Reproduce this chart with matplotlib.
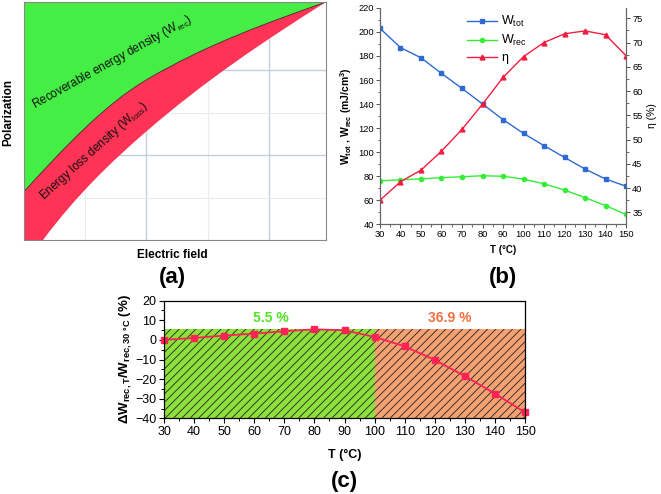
import numpy as np
import matplotlib
matplotlib.use("Agg")
import matplotlib.pyplot as plt
from matplotlib.ticker import MultipleLocator
from matplotlib.path import Path
from matplotlib.patches import PathPatch

plt.rcParams['font.family'] = ['Liberation Sans', 'DejaVu Sans']
plt.rcParams['mathtext.fontset'] = 'custom'
plt.rcParams['mathtext.rm'] = 'Liberation Sans'
plt.rcParams['mathtext.it'] = 'Liberation Sans:italic'
plt.rcParams['mathtext.bf'] = 'Liberation Sans:bold'
plt.rcParams['hatch.linewidth'] = 0.6

# ---------------- data ----------------
# panel (a): schematic P-E curves (axes fractions): anchor points and tangent slopes
upper_E = [0.0, 0.404, 1.0]
upper_P = [0.203, 0.672, 1.0]
upper_slope = [1.4, 0.75, 0.45]
lower_E = [0.063, 0.404, 1.0]
lower_P = [0.0, 0.455, 1.0]
lower_slope = [1.7, 1.1, 0.8]
grid_major_x = [0.404, 0.81]
grid_minor_x = [0.203, 0.608]
grid_major_y = [0.357, 0.714]
grid_minor_y = [0.175, 0.532]

# panel (b)
T = [30, 40, 50, 60, 70, 80, 90, 100, 110, 120, 130, 140, 150]
W_tot = [203, 187, 178.5, 165.5, 153, 140, 127, 115.5, 105.3, 95.5, 85.8, 77.5, 71.5]
W_rec = [76, 76.8, 77.6, 78.6, 79.4, 80.2, 79.8, 77.4, 73.5, 68.3, 62, 55.3, 48]
eta = [37.5, 41.3, 43.7, 47.6, 52.1, 57.3, 62.8, 67.1, 70.0, 71.8, 72.4, 71.6, 67.3]

# panel (c)
dW = [0.0, 1.0, 2.2, 3.2, 4.4, 5.4, 4.9, 1.5, -3.3, -10.2, -18.5, -27.4, -37.0]
region_bounds = [30, 100, 150]
region_top = 5.5
region_labels = ['5.5 %', '36.9 %']

W, H = 661, 494
fig = plt.figure(figsize=(W / 100, H / 100), dpi=100)

def ax_px(x0, y0, x1, y1):
    return fig.add_axes([x0 / W, 1 - y1 / H, (x1 - x0) / W, (y1 - y0) / H])

def ftext(x, y, s, **kw):
    fig.text(x / W, 1 - y / H, s, ha='center', va='center', **kw)

def hermite_bezier(xs, ys, slopes):
    """Vertices/codes of cubic Bezier segments through anchors with given tangents."""
    verts = [(xs[0], ys[0])]
    codes = [Path.MOVETO]
    for i in range(len(xs) - 1):
        h = (xs[i + 1] - xs[i]) / 3.0
        verts += [(xs[i] + h, ys[i] + slopes[i] * h),
                  (xs[i + 1] - h, ys[i + 1] - slopes[i + 1] * h),
                  (xs[i + 1], ys[i + 1])]
        codes += [Path.CURVE4] * 3
    return verts, codes

# ---------------- (a) ----------------
axa = ax_px(24, 2, 326, 240)
axa.set_xlim(0, 1)
axa.set_ylim(0, 1)
for g in grid_major_x:
    axa.axvline(g, color='#c5cfdc', lw=1.0, zorder=0)
for g in grid_minor_x:
    axa.axvline(g, color='#e6ebf1', lw=0.8, zorder=0)
for g in grid_major_y:
    axa.axhline(g, color='#c5cfdc', lw=1.0, zorder=0)
for g in grid_minor_y:
    axa.axhline(g, color='#e6ebf1', lw=0.8, zorder=0)

uv, uc = hermite_bezier(upper_E, upper_P, upper_slope)
lv, lc = hermite_bezier(lower_E[::-1], lower_P[::-1], lower_slope[::-1])
# green: upper curve then top-left corner
gverts = uv + [(0.0, 1.0), (0.0, upper_P[0])]
gcodes = uc + [Path.LINETO, Path.CLOSEPOLY]
axa.add_patch(PathPatch(Path(gverts, gcodes), facecolor='#44ee44', lw=0, zorder=1))
# red: upper curve forward, lower curve backward, bottom-left corner
rverts = uv + lv[1:] + [(0.0, 0.0), (0.0, upper_P[0])]
rcodes = uc + lc[1:] + [Path.LINETO, Path.CLOSEPOLY]
axa.add_patch(PathPatch(Path(rverts, rcodes), facecolor='#ff3355', lw=0, zorder=1))
axa.add_patch(PathPatch(Path(uv, uc), facecolor='none', edgecolor='#3a2a2a', lw=0.6, zorder=2))
axa.set_xticks([])
axa.set_yticks([])
for s in axa.spines.values():
    s.set_color('#888888')
    s.set_linewidth(0.8)
    s.set_zorder(3)
ftext(112, 62, 'Recoverable energy density (W$_{\\rm rec}$)', fontsize=8.5, rotation=29, color='#111111')
ftext(94, 151, 'Energy loss density (W$_{\\rm loss}$)', fontsize=8.5, rotation=42, color='#111111')
ftext(172, 255, 'Electric field', fontsize=8.5, fontweight='bold')
ftext(8, 113, 'Polarization', fontsize=8.5, fontweight='bold', rotation=90)
ftext(172, 277, '(a)', fontsize=16, fontweight='bold')

# ---------------- (b) ----------------
axb = ax_px(380, 8, 626, 224)
axb.set_xlim(30, 150)
axb.set_ylim(40, 220)
l1, = axb.plot(T, W_tot, color='#2e6ad2', marker='s', ms=3, lw=1.0, label='W$_{\\rm tot}$')
l2, = axb.plot(T, W_rec, color='#33ee33', marker='o', ms=3, lw=1.0, label='W$_{\\rm rec}$')
axb2 = axb.twinx()
axb2.set_ylim(32.59, 77.12)
l3, = axb2.plot(T, eta, color='#f21d40', marker='^', ms=3.5, lw=1.0, label='η')
axb.xaxis.set_major_locator(MultipleLocator(10))
axb.xaxis.set_minor_locator(MultipleLocator(5))
axb.yaxis.set_major_locator(MultipleLocator(20))
axb.yaxis.set_minor_locator(MultipleLocator(10))
axb2.yaxis.set_major_locator(MultipleLocator(5))
axb2.yaxis.set_minor_locator(MultipleLocator(2.5))
for a in (axb, axb2):
    a.tick_params(which='major', direction='out', length=3, width=0.7, labelsize=6.7, pad=1.5, color='#555555')
    a.tick_params(which='minor', direction='out', length=1.8, width=0.6, color='#555555')
    a.spines['top'].set_visible(False)
    for s in ('left', 'right', 'bottom'):
        a.spines[s].set_color('#666666')
        a.spines[s].set_linewidth(0.8)
axb.set_xlabel('T (°C)', fontsize=7, fontweight='bold', labelpad=4)
axb.set_ylabel('W$_\\mathbf{tot}$ , W$_\\mathbf{rec}$ (mJ/cm$^\\mathbf{3}$)', fontsize=7.5, fontweight='bold', labelpad=3)
axb2.set_ylabel('η (%)', fontsize=7.5, labelpad=3)
leg = axb.legend(handles=[l1, l2, l3], loc='upper left', bbox_to_anchor=((461 - 380) / 246, 1.0),
                 frameon=False, fontsize=9, handlelength=2.4, handletextpad=0.3,
                 labelspacing=0.3, borderaxespad=0.1)
ftext(503, 277, '(b)', fontsize=16, fontweight='bold')

# ---------------- (c) ----------------
axc = ax_px(164, 300.7, 525, 418.3)
axc.set_xlim(30, 150)
axc.set_ylim(-40, 20)
axc.fill_between([region_bounds[0], region_bounds[1]], -40, region_top, facecolor='#8ee03a',
                 edgecolor='#222222', hatch='////', lw=0, zorder=1)
axc.fill_between([region_bounds[1], region_bounds[2]], -40, region_top, facecolor='#f5a273',
                 edgecolor='#222222', hatch='////', lw=0, zorder=1)
axc.plot(T, dW, color='#ff2255', marker='s', ms=4.5, lw=1.3, zorder=3, clip_on=False)
axc.text((region_bounds[0] + region_bounds[1]) / 2 + 0.5, region_top + 5.5, region_labels[0], color='#55e625',
         fontsize=10, fontweight='bold', ha='center', va='center')
axc.text((region_bounds[1] + region_bounds[2]) / 2, region_top + 5.5, region_labels[1], color='#f27040',
         fontsize=10, fontweight='bold', ha='center', va='center')
axc.xaxis.set_major_locator(MultipleLocator(10))
axc.xaxis.set_minor_locator(MultipleLocator(5))
axc.yaxis.set_major_locator(MultipleLocator(10))
axc.yaxis.set_minor_locator(MultipleLocator(5))
axc.tick_params(which='major', direction='out', length=3.5, width=0.8, labelsize=9, pad=2)
axc.tick_params(which='minor', direction='out', length=2, width=0.7)
for s in axc.spines.values():
    s.set_linewidth(0.9)
    s.set_zorder(4)
axc.set_xlabel('T (°C)', fontsize=9, fontweight='bold', labelpad=8)
axc.set_ylabel('ΔW$_\\mathbf{rec,T}$/W$_\\mathbf{rec,30\\ °C}$ (%)', fontsize=9.5, fontweight='bold', labelpad=1)
ftext(344, 481, '(c)', fontsize=16, fontweight='bold')

fig.savefig('out.png', dpi=100)
